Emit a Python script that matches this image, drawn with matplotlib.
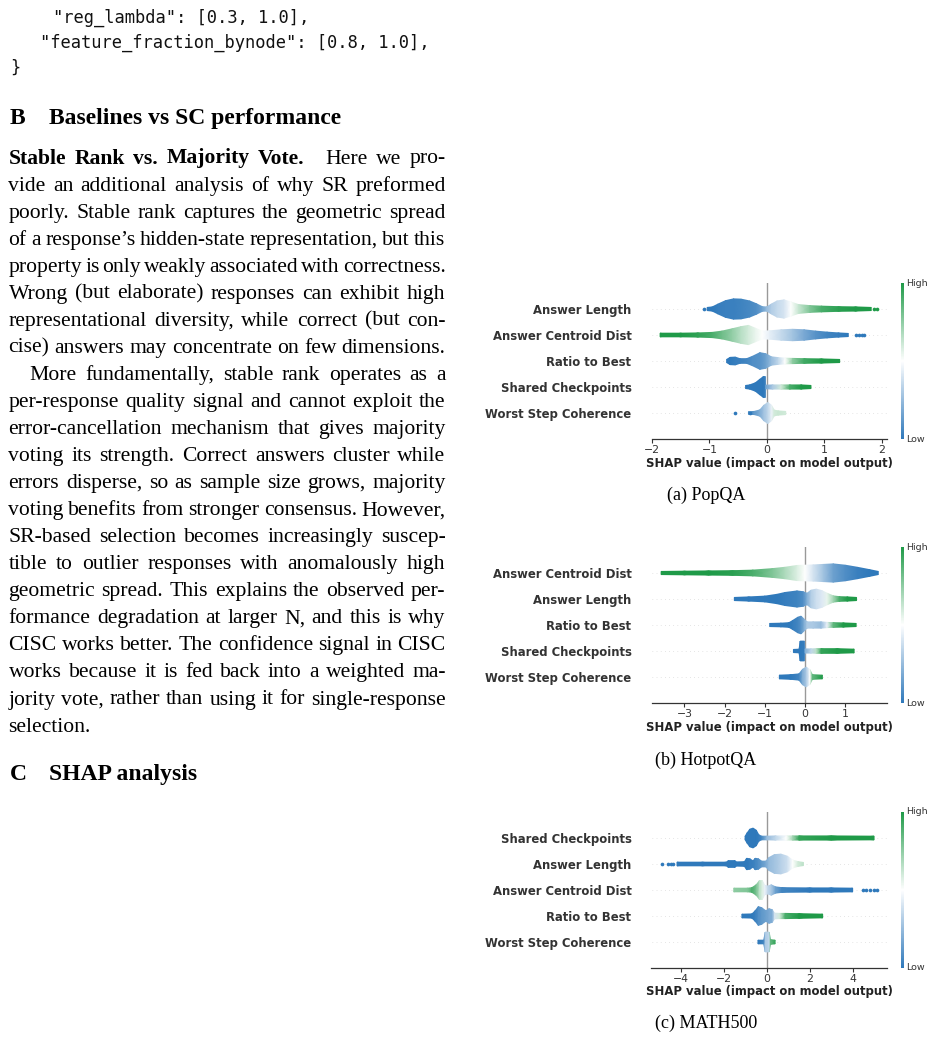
import numpy as np
import matplotlib
matplotlib.use("Agg")
import matplotlib.pyplot as plt
from matplotlib.colors import LinearSegmentedColormap
from matplotlib.cm import ScalarMappable

# ── page text ─────────────────────────────────────────────────────────────
code_lines = ['"reg_lambda": [0.3, 1.0],',
              '"feature_fraction_bynode": [0.8, 1.0],',
              '}']
heading_b = ("B", "Baselines vs SC performance")
heading_c = ("C", "SHAP analysis")
para_lead = "Stable Rank vs. Majority Vote."
body_lines = [
    "Here we pro-",
    "vide an additional analysis of why SR preformed",
    "poorly. Stable rank captures the geometric spread",
    "of a response\u2019s hidden-state representation, but this",
    "property is only weakly associated with correctness.",
    "Wrong (but elaborate) responses can exhibit high",
    "representational diversity, while correct (but con-",
    "cise) answers may concentrate on few dimensions.",
    "More fundamentally, stable rank operates as a",
    "per-response quality signal and cannot exploit the",
    "error-cancellation mechanism that gives majority",
    "voting its strength. Correct answers cluster while",
    "errors disperse, so as sample size grows, majority",
    "voting benefits from stronger consensus. However,",
    "SR-based selection becomes increasingly suscep-",
    "tible to outlier responses with anomalously high",
    "geometric spread. This explains the observed per-",
    "formance degradation at larger N, and this is why",
    "CISC works better. The confidence signal in CISC",
    "works because it is fed back into a weighted ma-",
    "jority vote, rather than using it for single-response",
    "selection.",
]
captions = ["(a) PopQA", "(b) HotpotQA", "(c) MATH500"]

# ── SHAP beeswarm profiles: (shap value, half-width of swarm, feature value) ──
popqa_features = ["Answer Length", "Answer Centroid Dist", "Ratio to Best",
                  "Shared Checkpoints", "Worst Step Coherence"]
popqa_answer_length = [(-1.04, 0.06, 0.0), (-0.95, 0.08, 0.0), (-0.85, 0.19, 0.02), (-0.72, 0.32, 0.03),
                       (-0.58, 0.39, 0.03), (-0.45, 0.38, 0.04), (-0.30, 0.31, 0.06), (-0.18, 0.20, 0.08),
                       (-0.08, 0.09, 0.15), (0.00, 0.08, 0.25), (0.08, 0.19, 0.32), (0.18, 0.31, 0.36),
                       (0.30, 0.35, 0.4), (0.42, 0.27, 0.5), (0.55, 0.17, 0.62), (0.75, 0.13, 0.78),
                       (0.95, 0.11, 0.9), (1.25, 0.09, 0.97), (1.55, 0.08, 1.0), (1.82, 0.06, 1.0)]
popqa_centroid_dist = [(-1.86, 0.07, 1.0), (-1.5, 0.07, 1.0), (-1.2, 0.08, 0.96), (-0.95, 0.10, 0.9),
                       (-0.78, 0.15, 0.82), (-0.60, 0.24, 0.74), (-0.45, 0.32, 0.66), (-0.32, 0.37, 0.6),
                       (-0.20, 0.26, 0.55), (-0.08, 0.15, 0.5), (0.05, 0.16, 0.44), (0.25, 0.20, 0.36),
                       (0.45, 0.22, 0.28), (0.65, 0.20, 0.18), (0.85, 0.15, 0.1), (1.05, 0.11, 0.05),
                       (1.25, 0.08, 0.02), (1.42, 0.06, 0.0)]
popqa_ratio_to_best = [(-0.70, 0.06, 0.0), (-0.64, 0.14, 0.0), (-0.55, 0.15, 0.02), (-0.47, 0.09, 0.03),
                       (-0.35, 0.09, 0.05), (-0.25, 0.18, 0.08), (-0.12, 0.32, 0.1), (-0.02, 0.28, 0.15),
                       (0.08, 0.16, 0.25), (0.20, 0.13, 0.35), (0.32, 0.11, 0.5), (0.45, 0.10, 0.75),
                       (0.65, 0.09, 0.92), (0.95, 0.08, 1.0), (1.27, 0.06, 1.0)]
popqa_shared_checkpoints = [(-0.37, 0.06, 0.0), (-0.30, 0.08, 0.0), (-0.20, 0.16, 0.0), (-0.12, 0.30, 0.0),
                            (-0.06, 0.40, 0.0), (-0.03, 0.40, 0.02), (-0.02, 0.07, 0.15), (0.10, 0.08, 0.3),
                            (0.25, 0.08, 0.6), (0.40, 0.08, 0.9), (0.60, 0.08, 1.0), (0.77, 0.06, 1.0)]
popqa_worst_step = [(-0.32, 0.05, 0.05), (-0.22, 0.06, 0.12), (-0.12, 0.12, 0.2), (-0.05, 0.30, 0.28),
                    (0.02, 0.40, 0.35), (0.08, 0.30, 0.45), (0.13, 0.11, 0.6), (0.20, 0.08, 0.62),
                    (0.33, 0.06, 0.6)]
popqa_outliers = [(0, -1.10, 0.0), (0, 1.87, 1.0), (0, 1.92, 1.0),
                  (1, 1.55, 0.0), (1, 1.60, 0.0), (1, 1.66, 0.0), (1, 1.70, 0.0),
                  (4, -0.56, 0.0), (4, -0.30, 0.0)]

hotpot_features = ["Answer Centroid Dist", "Answer Length", "Ratio to Best",
                   "Shared Checkpoints", "Worst Step Coherence"]
hotpot_centroid_dist = [(-3.58, 0.06, 1.0), (-3.0, 0.07, 1.0), (-2.4, 0.08, 1.0), (-1.8, 0.09, 0.97),
                        (-1.3, 0.11, 0.9), (-0.8, 0.17, 0.78), (-0.5, 0.22, 0.68), (-0.2, 0.29, 0.58),
                        (0.0, 0.30, 0.5), (0.2, 0.31, 0.4), (0.45, 0.33, 0.28), (0.7, 0.35, 0.15),
                        (1.0, 0.30, 0.08), (1.3, 0.22, 0.03), (1.6, 0.13, 0.0), (1.82, 0.06, 0.0)]
hotpot_answer_length = [(-1.76, 0.06, 0.0), (-1.4, 0.08, 0.0), (-1.0, 0.11, 0.0), (-0.7, 0.18, 0.0),
                        (-0.5, 0.25, 0.02), (-0.2, 0.31, 0.04), (-0.05, 0.28, 0.08), (0.05, 0.22, 0.2),
                        (0.15, 0.34, 0.32), (0.28, 0.38, 0.38), (0.42, 0.32, 0.42), (0.55, 0.22, 0.55),
                        (0.70, 0.12, 0.7), (0.85, 0.09, 0.9), (1.05, 0.08, 1.0), (1.28, 0.06, 1.0)]
hotpot_ratio_to_best = [(-0.88, 0.06, 0.0), (-0.6, 0.07, 0.0), (-0.4, 0.09, 0.0), (-0.3, 0.18, 0.02),
                        (-0.18, 0.30, 0.05), (-0.10, 0.34, 0.1), (-0.02, 0.22, 0.2), (0.05, 0.12, 0.3),
                        (0.2, 0.12, 0.3), (0.4, 0.12, 0.25), (0.55, 0.10, 0.45), (0.7, 0.09, 0.85),
                        (0.95, 0.08, 1.0), (1.27, 0.06, 1.0)]
hotpot_shared_checkpoints = [(-0.29, 0.06, 0.0), (-0.15, 0.07, 0.0), (-0.12, 0.38, 0.0), (-0.02, 0.38, 0.02),
                             (0.0, 0.08, 0.2), (0.15, 0.08, 0.35), (0.28, 0.09, 0.65), (0.4, 0.09, 0.95),
                             (0.8, 0.09, 1.0), (1.22, 0.07, 1.0)]
hotpot_worst_step = [(-0.64, 0.07, 0.0), (-0.35, 0.09, 0.0), (-0.15, 0.12, 0.05), (-0.06, 0.30, 0.2),
                     (0.03, 0.38, 0.3), (0.12, 0.28, 0.5), (0.18, 0.09, 0.85), (0.43, 0.07, 1.0)]
hotpot_outliers = []

math_features = ["Shared Checkpoints", "Answer Length", "Answer Centroid Dist",
                 "Ratio to Best", "Worst Step Coherence"]
math_shared_checkpoints = [(-1.02, 0.07, 0.0), (-0.92, 0.20, 0.0), (-0.80, 0.34, 0.0), (-0.65, 0.38, 0.0),
                           (-0.50, 0.30, 0.0), (-0.38, 0.12, 0.02), (-0.25, 0.07, 0.05), (0.0, 0.07, 0.25),
                           (0.4, 0.08, 0.35), (0.9, 0.08, 0.5), (1.2, 0.08, 0.7), (1.5, 0.08, 0.95),
                           (3.0, 0.08, 1.0), (5.0, 0.07, 1.0)]
math_answer_length = [(-4.2, 0.07, 0.0), (-3.0, 0.07, 0.0), (-1.9, 0.07, 0.0), (-1.8, 0.13, 0.0),
                      (-1.5, 0.13, 0.0), (-1.45, 0.08, 0.0), (-1.05, 0.09, 0.0), (-0.95, 0.22, 0.0),
                      (-0.8, 0.20, 0.02), (-0.65, 0.12, 0.03), (-0.55, 0.22, 0.05), (-0.4, 0.20, 0.08),
                      (-0.25, 0.11, 0.12), (-0.05, 0.11, 0.18), (0.1, 0.25, 0.25), (0.35, 0.36, 0.28),
                      (0.65, 0.38, 0.33), (0.95, 0.30, 0.38), (1.2, 0.15, 0.5), (1.45, 0.09, 0.6),
                      (1.7, 0.06, 0.65)]
math_centroid_dist = [(-1.55, 0.07, 0.75), (-0.9, 0.07, 0.78), (-0.7, 0.09, 0.9), (-0.5, 0.20, 0.8),
                      (-0.35, 0.36, 0.65), (-0.22, 0.36, 0.58), (-0.1, 0.18, 0.45), (0.05, 0.15, 0.35),
                      (0.2, 0.20, 0.3), (0.4, 0.12, 0.15), (0.7, 0.09, 0.05), (2.0, 0.08, 0.0),
                      (3.0, 0.08, 0.0), (4.0, 0.07, 0.0)]
math_ratio_to_best = [(-1.17, 0.07, 0.0), (-0.7, 0.08, 0.0), (-0.55, 0.20, 0.03), (-0.4, 0.36, 0.08),
                      (-0.25, 0.32, 0.12), (-0.05, 0.20, 0.15), (0.1, 0.28, 0.18), (0.25, 0.24, 0.2),
                      (0.35, 0.11, 0.4), (0.6, 0.10, 0.6), (0.85, 0.10, 0.9), (1.5, 0.09, 1.0),
                      (2.6, 0.07, 1.0)]
math_worst_step = [(-0.42, 0.07, 0.0), (-0.15, 0.07, 0.05), (-0.08, 0.38, 0.3), (0.1, 0.38, 0.35),
                   (0.17, 0.09, 0.85), (0.38, 0.07, 0.95)]
math_outliers = [(1, -4.9, 0.0), (1, -4.6, 0.0), (1, -4.5, 0.0), (1, -4.4, 0.0),
                 (2, 4.5, 0.0), (2, 4.62, 0.0), (2, 4.8, 0.0), (2, 5.0, 0.0), (2, 5.15, 0.0)]

popqa_ticks = [-2, -1, 0, 1, 2]
hotpot_ticks = [-3, -2, -1, 0, 1]
math_ticks = [-4, -2, 0, 2, 4]

# ── page geometry (pixels, origin top-left) ─────────────────────────────
W, H = 933, 1039
fig = plt.figure(figsize=(W / 100, H / 100), dpi=100)
fig.patch.set_facecolor("white")
renderer = fig.canvas.get_renderer()


def fx(x):
    return x / W


def fy(y):
    return 1 - y / H


def put(x, y, s, **kw):
    return fig.text(fx(x), fy(y), s, va="baseline", **kw)


SERIF = "Liberation Serif"
MONO = "DejaVu Sans Mono"
BODY_SIZE = 15.6

# code block
for (x, y), s in zip([(53, 23), (40, 48), (10, 73)], code_lines):
    put(x, y, s, family=MONO, fontsize=12.3, color="#111111")

# headings
for y, (num, title) in [(124, heading_b), (780, heading_c)]:
    put(9.5, y, num, family=SERIF, fontsize=17, fontweight="bold")
    put(49, y, title, family=SERIF, fontsize=17, fontweight="bold")


def set_line(tokens, y, left, right, justify=True):
    # tokens: (word, bold, extra gap after)
    texts = [put(0, y, w, family=SERIF, fontsize=BODY_SIZE,
                 fontweight="bold" if b else "normal") for w, b, _ in tokens]
    widths = [t.get_window_extent(renderer).width for t in texts]
    extra = sum(e for _, _, e in tokens)
    if justify and len(tokens) > 1:
        gap = (right - left - sum(widths) - extra) / (len(tokens) - 1)
    else:
        gap = 0.25 * BODY_SIZE * 100 / 72
    x = left
    for t, w, (_, _, e) in zip(texts, widths, tokens):
        t.set_x(fx(x))
        x += w + gap + e


LEFT, RIGHT = 8.5, 445.5
TOP, LEADING = 163.5, 27.05
for i, line in enumerate(body_lines):
    y = TOP + i * LEADING
    toks = [(w, False, 0) for w in line.split()]
    left = LEFT
    if i == 0:
        lead = [(w, True, 0) for w in para_lead.split()]
        lead[-1] = (lead[-1][0], True, 12)
        toks = lead + toks
    if i == 8:
        left = LEFT + 21
    set_line(toks, y, left, RIGHT, justify=(i != len(body_lines) - 1))

# ── beeswarm panels ──────────────────────────────────────────────────────
cmap = LinearSegmentedColormap.from_list("shap_bg", ["#2f79bb", "#ffffff", "#1f9a48"])
LABEL_COLOR = "#333333"


def draw_swarm(ax, row, knots):
    xs = np.array([k[0] for k in knots])
    ws = np.array([k[1] for k in knots])
    cs = np.array([k[2] for k in knots])
    X = np.vstack([xs, xs])
    Y = np.vstack([row - ws, row + ws])
    C = np.vstack([cs, cs])
    ax.pcolormesh(X, Y, C, shading="gouraud", cmap=cmap, vmin=0, vmax=1, zorder=2)


panels = [
    (popqa_features, [popqa_answer_length, popqa_centroid_dist, popqa_ratio_to_best,
                      popqa_shared_checkpoints, popqa_worst_step],
     popqa_outliers, popqa_ticks, (-2.01, 2.09), 283, captions[0], 500),
    (hotpot_features, [hotpot_centroid_dist, hotpot_answer_length, hotpot_ratio_to_best,
                       hotpot_shared_checkpoints, hotpot_worst_step],
     hotpot_outliers, hotpot_ticks, (-3.82, 2.03), 547, captions[1], 765),
    (math_features, [math_shared_checkpoints, math_answer_length, math_centroid_dist,
                     math_ratio_to_best, math_worst_step],
     math_outliers, math_ticks, (-5.39, 5.59), 812, captions[2], 1028),
]

AX_L, AX_R = 651.5, 886.7
for feats, profiles, outliers, ticks, xlim, top, cap, cap_y in panels:
    n = len(feats)
    bottom = top + 26 * (n + 1)
    ax = fig.add_axes([fx(AX_L), fy(bottom), (AX_R - AX_L) / W, (bottom - top) / H])
    ax.set_facecolor("none")
    rows = list(range(n - 1, -1, -1))
    for r in rows:
        ax.axhline(r, color="#cccccc", lw=0.5, dashes=(1, 5), zorder=-1)
    ax.axvline(0, color="#999999", lw=1.0, zorder=-1)
    for r, prof in zip(rows, profiles):
        draw_swarm(ax, r, prof)
    for k, x, c in outliers:
        ax.scatter([x], [rows[k]], s=7, color=cmap(c), lw=0, zorder=3)
    ax.set_xlim(*xlim)
    ax.set_ylim(-1, n)
    for sp in ["top", "left", "right"]:
        ax.spines[sp].set_visible(False)
    ax.spines["bottom"].set_color(LABEL_COLOR)
    ax.spines["bottom"].set_linewidth(0.9)
    ax.set_yticks(rows)
    ax.set_yticklabels(feats, fontsize=8.4, fontweight="bold", color=LABEL_COLOR)
    ax.tick_params(axis="y", length=0, pad=14.4)
    ax.set_xticks(ticks)
    ax.set_xticklabels([f"{t:d}".replace("-", "\u2212") for t in ticks])
    ax.tick_params(axis="x", length=3, width=0.8, pad=1.5, labelsize=7.8,
                   color=LABEL_COLOR, labelcolor=LABEL_COLOR)
    fig.text(fx((AX_L + AX_R) / 2 + 0.5), fy(bottom + 24), "SHAP value (impact on model output)",
             ha="center", va="center", fontsize=8.4, fontweight="bold", color="#222222")

    # colour bar
    cax = fig.add_axes([fx(901), fy(bottom), 3 / W, (bottom - top) / H])
    cb = fig.colorbar(ScalarMappable(cmap=cmap), cax=cax, ticks=[])
    cb.outline.set_visible(False)
    fig.text(fx(906.5), fy(top), "High", ha="left", va="center", fontsize=6.8, color=LABEL_COLOR)
    fig.text(fx(906.5), fy(bottom), "Low", ha="left", va="center", fontsize=6.8, color=LABEL_COLOR)

    put(706, cap_y, cap, ha="center", family=SERIF, fontsize=13)

fig.savefig("out.png", dpi=100)
